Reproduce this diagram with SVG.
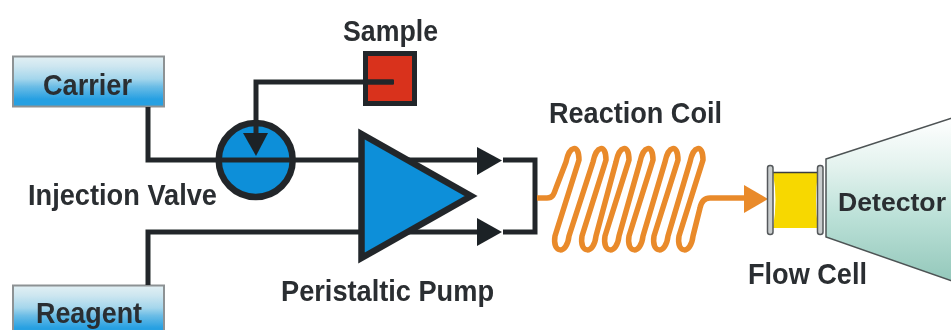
<svg xmlns="http://www.w3.org/2000/svg" width="951" height="330" viewBox="0 0 951 330">
<style>
text{font-family:"Liberation Sans",Arial,sans-serif;font-weight:700;font-size:29.500px;fill:#2b2e31}
.pipe{fill:none;stroke:#24282b;stroke-width:5;stroke-linecap:butt;stroke-linejoin:miter}
.head{fill:#1f2427}
.box{fill:url(#bar);stroke:#8d9294;stroke-width:2}
.blue{fill:#0a8fd9;stroke:#24282b;stroke-width:6.500}
.plate{fill:#c9cdce;stroke:#55595b;stroke-width:1.500}
</style>
<defs>
<filter id="soft" x="0" y="0" width="951" height="330" filterUnits="userSpaceOnUse"><feGaussianBlur stdDeviation="0.55"/></filter>
<linearGradient id="bar" x1="0" y1="0" x2="0" y2="1">
<stop offset="0" stop-color="#e2f0f4"/><stop offset=".2" stop-color="#cde6f0"/><stop offset=".45" stop-color="#a4d6ec"/><stop offset=".6" stop-color="#6cbde6"/><stop offset=".85" stop-color="#27a0e2"/><stop offset="1" stop-color="#27a0e2"/>
</linearGradient>
<linearGradient id="det" gradientUnits="userSpaceOnUse" x1="0" y1="118" x2="0" y2="281">
<stop offset="0" stop-color="#ffffff"/><stop offset=".3" stop-color="#e3f2ee"/><stop offset=".6" stop-color="#bce1d8"/><stop offset="1" stop-color="#94c8bb"/>
</linearGradient>
</defs>
<g filter="url(#soft)">
<g id="carrier"><rect class="box" x="13" y="56.500" width="151" height="50"/><text x="43" y="95" textLength="89" lengthAdjust="spacingAndGlyphs">Carrier</text></g>
<g id="reagent"><rect class="box" x="13" y="285.500" width="151" height="50"/><text x="36" y="323" textLength="106" lengthAdjust="spacingAndGlyphs">Reagent</text></g>
<g id="sample"><rect x="365.500" y="53.500" width="49" height="50" fill="#d9321a" stroke="#24282b" stroke-width="5"/><text x="343" y="41" textLength="95" lengthAdjust="spacingAndGlyphs">Sample</text></g>
<g id="valve"><circle class="blue" cx="255.700" cy="160" r="37"/><text x="28" y="205" textLength="189" lengthAdjust="spacingAndGlyphs">Injection Valve</text></g>
<g id="reaction-coil"><text x="549" y="123" textLength="173" lengthAdjust="spacingAndGlyphs">Reaction Coil</text></g>
<g id="connectors">
<path class="pipe" d="M148 107V160H362"/>
<path class="pipe" d="M148 285V232H362"/>
<path class="pipe" d="M256 136V82H393"/>
<path class="pipe" d="M400 160H480M400 232H480"/>
<path class="pipe" d="M503 160H535V232H503"/>
<path id="coil" fill="none" stroke="#e98a2b" stroke-width="5.500" stroke-linejoin="round" d="M537 198H547C553 198 554 194 556 188L566 162C569 146 579 143 579 160L555 236C552 254 567 255 569 236L593 162C596 146 606 143 606 160L582 236C579 254 594 255 596 236L616 162C619 146 629 143 629 160L605 236C602 254 617 255 619 236L640 162C643 146 653 143 653 160L629 236C626 254 641 255 643 236L665 162C668 146 678 143 678 160L654 236C651 254 666 255 668 236L690 162C693 146 703 143 703 160L679 236C676 254 691 255 693 236L700 208Q702 198 710 198H748"/>
<polygon fill="#e98a2b" points="744,185 768,199 744,213"/>
<polygon class="head" points="477,147 502,160.500 477,175"/>
<polygon class="head" points="477,218 502,232 477,246"/>
<polygon class="head" points="243,133 268,133 256,156"/>
<path class="pipe" d="M365 82H394"/>
</g>
<g id="pump"><polygon class="blue" points="361.500,134 471,196 361.500,258"/><text x="281" y="301" textLength="213" lengthAdjust="spacingAndGlyphs">Peristaltic Pump</text></g>
<g id="flow-cell">
<path d="M773 173H818Q814 200 818 228H773Q778 200 773 173Z" fill="#f7d800"/>
<path d="M772 172.500H819" stroke="#3a3d3f" stroke-width="1.500" fill="none"/>
<rect class="plate" x="767.500" y="165.500" width="5.500" height="69" rx="2.500"/>
<rect class="plate" x="817.500" y="165.500" width="5.500" height="69" rx="2.500"/>
<text x="748" y="284" textLength="119" lengthAdjust="spacingAndGlyphs">Flow Cell</text>
</g>
<g id="detector"><polygon points="826,159 952,118 952,281 826,237" fill="url(#det)" stroke="#4d5354" stroke-width="1.500"/><text x="838" y="211" textLength="108" lengthAdjust="spacingAndGlyphs" style="font-size:26.500px">Detector</text></g>
</g>
</svg>
